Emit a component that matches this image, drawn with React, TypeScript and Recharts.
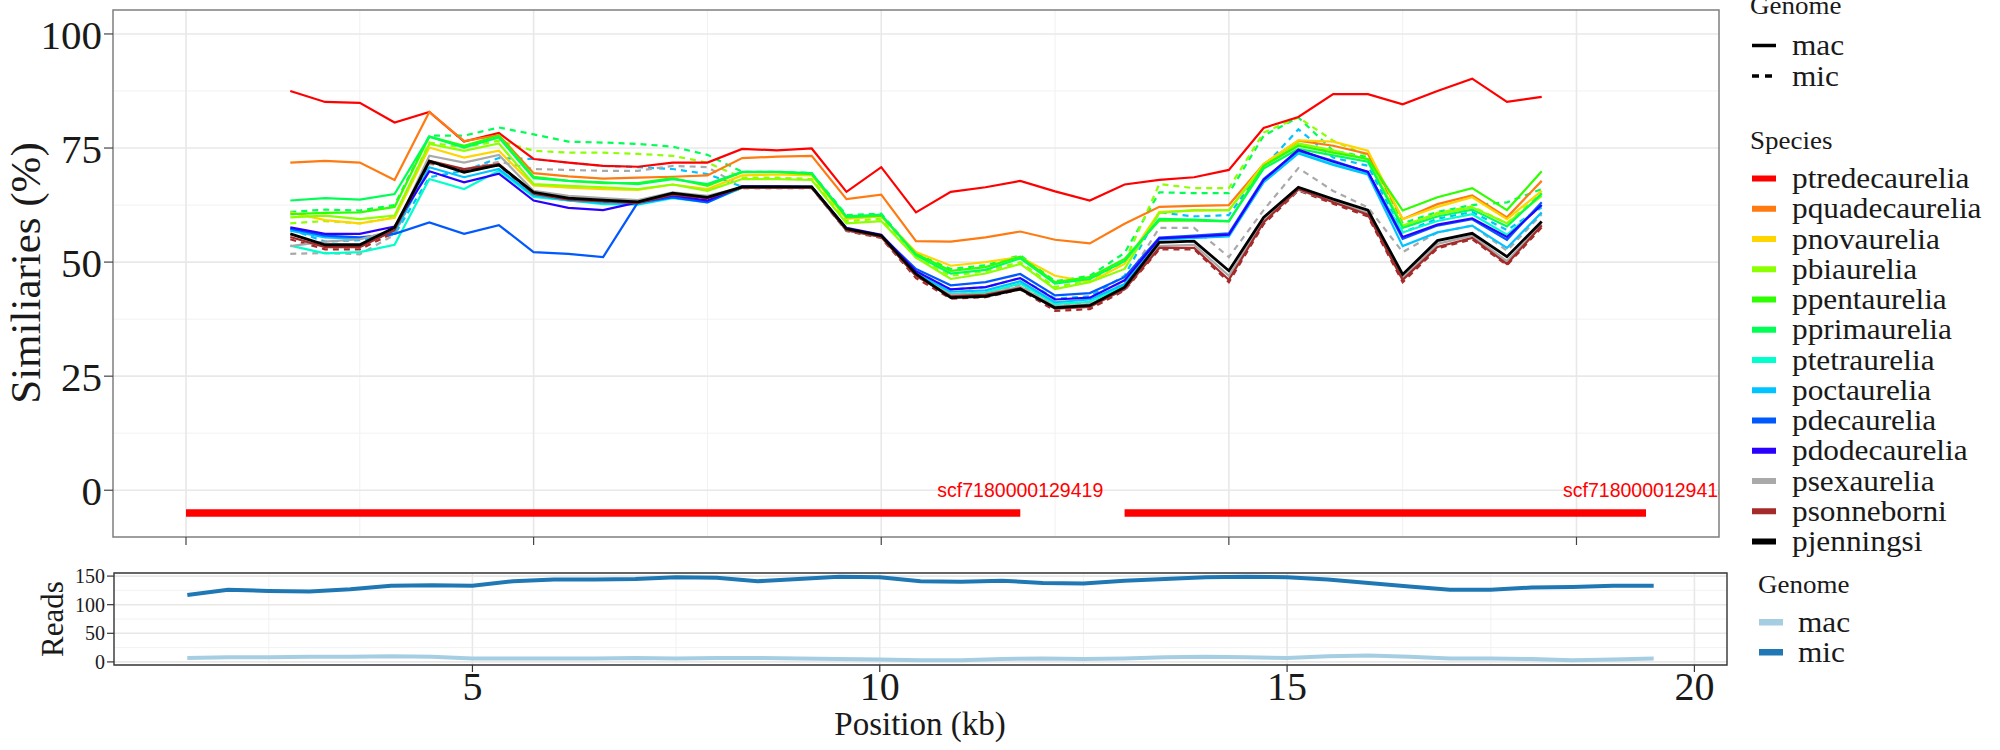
import React from 'react'
import { LineChart, Line, XAxis, YAxis, CartesianGrid, ReferenceLine, ReferenceDot, ReferenceArea } from 'recharts'

const SERIF = '"Liberation Serif", "Times New Roman", serif'
const SANS = '"Liberation Sans", Arial, sans-serif'

// window positions (kb)
const positions = [1.5, 2, 2.5, 3, 3.5, 4, 4.5, 5, 5.5, 6, 6.5, 7, 7.5, 8, 8.5, 9, 9.5, 10, 10.5, 11, 11.5, 12, 12.5, 13, 13.5, 14, 14.5, 15, 15.5, 16, 16.5, 17, 17.5, 18, 18.5, 19, 19.5]

// similarity, mac genome
const ptredecaurelia = [87.5, 85.1, 84.9, 80.6, 82.9, 76.4, 78.3, 72.6, 71.8, 71.1, 70.9, 71.8, 71.8, 74.8, 74.5, 74.9, 65.4, 70.8, 60.9, 65.4, 66.4, 67.8, 65.5, 63.5, 67, 68, 68.6, 70.2, 79.4, 81.8, 86.8, 86.8, 84.6, 87.5, 90.2, 85.1, 86.2]
const pquadecaurelia = [71.8, 72.2, 71.8, 68, 82.9, 76.5, 77.8, 69.5, 68.8, 68.3, 68.5, 68.7, 69, 72.8, 73.1, 73.3, 63.8, 64.8, 54.6, 54.5, 55.4, 56.7, 54.9, 54.1, 58.4, 62.1, 62.3, 62.5, 71.5, 76.6, 75.5, 73.7, 59.4, 62.7, 64.6, 59.8, 67.8]
const pnovaurelia = [60.9, 59.2, 58.5, 59.7, 75.1, 72.9, 74.4, 66.8, 66.3, 66, 65.8, 67, 66, 69, 69.2, 69, 59.5, 60, 52.2, 49.2, 50, 51.1, 47, 45.6, 49.6, 61, 61.3, 61.4, 71.5, 76.7, 76.4, 74.4, 59.4, 62.1, 64.2, 59.4, 65.6]
const pbiaurelia = [59.8, 60.2, 59.4, 60.2, 75.9, 74.4, 76, 67.1, 66.7, 66.4, 66, 67, 65.6, 68.2, 68.2, 68, 58.5, 59, 51, 46.3, 47.5, 49.6, 44.1, 45.6, 48.5, 60.8, 61.4, 61.4, 71, 76, 74.5, 72.5, 58, 60.5, 62, 58.5, 64.5]
const ppentaurelia = [60.5, 60.8, 60.9, 62.1, 77.5, 75.5, 77.7, 68.7, 67.8, 67.3, 67.3, 68.4, 66.7, 69.7, 69.7, 69.3, 59.8, 60.2, 51.8, 48.1, 48.9, 51.2, 45.6, 46.7, 50.7, 59.1, 59.1, 58.9, 71.1, 75.5, 74, 72.6, 61.3, 64.2, 66.2, 61.4, 69.9]
const pprimaurelia = [63.5, 64, 63.7, 64.9, 77.5, 75.1, 77.3, 68.4, 67.8, 67.5, 67.1, 68.2, 67.1, 69.8, 69.8, 69.5, 60, 60.4, 51.5, 47.5, 48.3, 50.8, 45.3, 46.3, 50.2, 59.5, 59.3, 59, 70.5, 74.8, 73.4, 72, 57.5, 60, 61.5, 57.8, 65]
const ptetraurelia = [53.6, 51.9, 52.2, 53.8, 68.2, 66, 70, 64.3, 63.5, 62.7, 62.6, 64, 63.1, 66.3, 66.3, 66.3, 57, 55.6, 47.6, 43, 43.3, 45.3, 40.8, 41.3, 44.8, 55, 55.3, 55.8, 67.5, 74, 71.5, 69.5, 56.5, 59, 60.5, 56, 62.5]
const poctaurelia = [56.9, 55.4, 55.1, 56.5, 70.8, 68.6, 70.4, 64.6, 63.5, 62.9, 62.7, 64.2, 63.2, 66.4, 66.4, 66.4, 57, 55.6, 47.5, 43.5, 43.8, 45.8, 41.2, 41.8, 45.2, 55, 55.3, 55.6, 67.5, 73.8, 71.3, 69.2, 53.5, 56.5, 58, 53.1, 60.9]
const pdecaurelia = [57.3, 55.8, 55.4, 56.2, 58.7, 56.2, 58.1, 52.2, 51.8, 51.1, 63.1, 64.2, 63.1, 66.5, 66.5, 66.5, 57.3, 55.8, 48.5, 44.9, 45.6, 47.4, 42.7, 43.2, 46.7, 55.4, 55.8, 56.3, 68.2, 74.4, 72.2, 69.7, 55.1, 58, 59.4, 54.9, 63.1]
const pdodecaurelia = [57.6, 56.2, 56.2, 57.8, 69.9, 67.5, 69.4, 63.5, 61.9, 61.4, 63.1, 64.6, 63.5, 66.6, 66.6, 66.5, 57.5, 56, 48, 44, 44.5, 46.5, 41.8, 42.2, 46, 55.2, 55.6, 56, 68, 74.6, 72, 69.8, 55.5, 58.2, 59.6, 55.5, 62.5]
const psexaurelia = [53.5, 54.5, 55, 57, 73.3, 71.8, 73.5, 65.6, 64.5, 64, 63.6, 65.3, 64.5, 66.4, 66.3, 66.3, 57, 55.5, 47, 42.8, 43, 44.6, 40.3, 40.8, 44, 53.5, 53.8, 47, 59, 65.8, 63.3, 60.8, 46.5, 54, 55.8, 50.2, 58.3]
const psonneborni = [55.5, 53.3, 53.3, 57, 72.2, 70.4, 71.5, 65, 63.7, 63.3, 63, 64.8, 64, 66.3, 66.3, 66.3, 57, 55.5, 47, 42.5, 42.8, 44.3, 39.8, 40.2, 44.1, 53.1, 53.1, 46.1, 58.7, 66, 63.1, 60.4, 46.1, 53.3, 55.3, 49.6, 58]
const pjenningsi = [56.2, 53.8, 53.8, 57.6, 72.1, 69.7, 71.3, 65.3, 64, 63.6, 63.2, 65.1, 64.2, 66.5, 66.5, 66.5, 57.3, 55.8, 47.4, 42.2, 42.5, 44.1, 40, 40.5, 44.5, 54.3, 54.6, 48.1, 59.8, 66.4, 63.8, 61.4, 47.3, 54.7, 56.3, 51.2, 58.9]

// similarity, mic genome (only where it separates from mac)
const pprimaureliaMic = [61, 61.5, 61.3, 62.5, 77.7, 77.7, 79.5, 78, 76.4, 76.2, 75.9, 75.3, 73.5, 69.8, 69.8, 69.5, 60.3, 60.6, 51.8, 48.5, 49.3, 51.5, 45.8, 47, 52, 65.3, 65.1, 65.1, 77.7, 81.7, 74.4, 73, 58.5, 61, 62.5, 63.1, 66]
const pbiaureliaMic = [58.5, 59, 58.5, 59.8, 76.2, 75.1, 76.6, 74.4, 74, 74, 73.7, 73.3, 71.8, 68.5, 68.5, 68.2, 59, 59.5, 51, 47, 48, 50, 44.5, 46, 50, 67.1, 66.2, 66.2, 78.4, 81.7, 76.6, 73.3, 57.8, 60.8, 62.2, 58.5, 65.2]
const poctaureliaMic = [57.2, 54.5, 54.8, 56, 68.6, 70, 72.8, 72.6, 71.8, 71.1, 70.8, 70.4, 69.3, 66.5, 66.5, 66.4, 57.3, 55.8, 48, 44, 44.5, 46.5, 42, 42.5, 47, 60.9, 60, 60.3, 70.8, 79.1, 72.9, 71.1, 56.5, 59.5, 61, 57, 62]
const psexaureliaMic = [51.8, 52, 51.7, 56, 71.5, 70.3, 72, 70.4, 70.2, 70, 70, 71.1, 70.8, 66.5, 66.5, 66.5, 57.2, 55.7, 47.2, 43, 43.3, 45, 40.6, 41, 45.5, 57.5, 57.5, 51.1, 61.4, 70.6, 65.6, 62, 52.2, 56.5, 58, 52.5, 60.5]
const psonneborniMic = [55, 52.8, 52.8, 56.5, 71.8, 70, 71.2, 64.8, 63.5, 63.1, 62.8, 64.6, 63.8, 66.2, 66.2, 66.2, 56.8, 55.3, 46.5, 42, 42.3, 44, 39.3, 39.7, 43.8, 52.8, 52.8, 45.6, 58.3, 65.7, 62.8, 60, 45.6, 53, 55, 49.3, 57.6]

// read coverage
const macReads = [7, 8, 8, 9, 9, 10, 9, 6, 6, 6, 6, 7, 6, 7, 7, 6, 5, 4, 3, 3, 5, 6, 5, 6, 8, 9, 8, 7, 10, 11, 9, 6, 6, 5, 3, 4, 6]
const micReads = [117, 126, 124, 123, 127, 133, 134, 133, 141, 144, 144, 145, 148, 147, 141, 145, 149, 148, 141, 140, 142, 138, 137, 142, 145, 148, 149, 148, 144, 138, 132, 126, 126, 130, 131, 133, 133]

// scaffolds under the similarity panel
const scaffoldNames = ['scf7180000129419', 'scf7180000129418']
const scaffoldStarts = [0, 13.5]
const scaffoldEnds = [12, 21]

const speciesNames = ['ptredecaurelia', 'pquadecaurelia', 'pnovaurelia', 'pbiaurelia', 'ppentaurelia', 'pprimaurelia', 'ptetraurelia', 'poctaurelia', 'pdecaurelia', 'pdodecaurelia', 'psexaurelia', 'psonneborni', 'pjenningsi']
const speciesColors = ['#FF0000', '#FF7A10', '#FFD500', '#8CFF00', '#2EFF00', '#00FF55', '#00FFCC', '#00C3FF', '#0058FF', '#2A00FF', '#A9A9A9', '#A52A2A', '#000000']
const macValues = [ptredecaurelia, pquadecaurelia, pnovaurelia, pbiaurelia, ppentaurelia, pprimaurelia, ptetraurelia, poctaurelia, pdecaurelia, pdodecaurelia, psexaurelia, psonneborni, pjenningsi]
const micSpecies = ['pprimaurelia', 'pbiaurelia', 'poctaurelia', 'psexaurelia', 'psonneborni']
const micValues = [pprimaureliaMic, pbiaureliaMic, poctaureliaMic, psexaureliaMic, psonneborniMic]

const yTicks = [0, 25, 50, 75, 100]
const yMinor = [12.5, 37.5, 62.5, 87.5]
const xTicksTop = [0, 5, 10, 15, 20]
const xMinor = [2.5, 7.5, 12.5, 17.5]
const readTicks = [0, 50, 100, 150]
const readMinor = [25, 75, 125]
const kbTicks = [5, 10, 15, 20]

const topData = positions.map((x, i) => {
  const row: Record<string, number> = { x }
  speciesNames.forEach((s, k) => { row[s + '_mac'] = macValues[k][i] })
  micSpecies.forEach((s, k) => { row[s + '_mic'] = micValues[k][i] })
  return row
})

const readData = positions.map((x, i) => ({ x, mac: macReads[i], mic: micReads[i] }))

// layout
const TOP_W = 1740
const TOP_H = 560
const TOP_MARGIN = { top: 10, right: 21, bottom: 13, left: 0 }
const TOP_YW = 113
const BOT_MARGIN = { top: 13, right: 13, bottom: 35, left: 0 }
const BOT_YW = 114

function ScfLabel(props: any) {
  const { viewBox, text } = props
  if (!viewBox) return null
  const cx = viewBox.x + (viewBox.width || 0) / 2
  const cy = viewBox.y + (viewBox.height || 0) / 2
  const id = 'clip-' + text
  const left = TOP_MARGIN.left + TOP_YW
  return (
    <g>
      <defs>
        <clipPath id={id}>
          <rect x={left} y={0} width={TOP_W - TOP_MARGIN.right - left} height={TOP_H} />
        </clipPath>
      </defs>
      <text x={cx} y={cy} dy="0.36em" textAnchor="middle" fill="#FF0000" fontSize={19.5} fontFamily={SANS} clipPath={`url(#${id})`}>
        {text}
      </text>
    </g>
  )
}

function SimilarityPanel() {
  return (
    <LineChart width={TOP_W} height={TOP_H} data={topData} margin={TOP_MARGIN}>
      <CartesianGrid horizontalValues={yMinor} verticalValues={xMinor} stroke="#F0F0F0" strokeWidth={0.9} />
      <CartesianGrid horizontalValues={yTicks} verticalValues={xTicksTop} stroke="#E8E8E8" strokeWidth={1.6} />
      <XAxis
        type="number"
        dataKey="x"
        domain={[-1.05, 22.05]}
        ticks={xTicksTop}
        allowDataOverflow
        height={10}
        tickSize={8}
        tickFormatter={() => ''}
        axisLine={false}
        tickLine={{ stroke: '#444', strokeWidth: 1.2 }}
      />
      <YAxis
        type="number"
        domain={[-10.25, 105.25]}
        ticks={yTicks}
        allowDataOverflow
        width={TOP_YW}
        tickSize={9}
        tickMargin={2}
        axisLine={false}
        tickLine={{ stroke: '#444', strokeWidth: 1.2 }}
        tick={{ fontSize: 41, fill: '#1a1a1a', fontFamily: SERIF }}
      />
      <ReferenceArea x1={-1.05} x2={22.05} y1={-10.25} y2={105.25} fill="none" stroke="#7F7F7F" strokeWidth={1.5} ifOverflow="visible" />
      {micSpecies.map((s) => (
        <Line
          key={s + '_mic'}
          dataKey={s + '_mic'}
          type="linear"
          stroke={speciesColors[speciesNames.indexOf(s)]}
          strokeWidth={2.2}
          strokeDasharray="6 5"
          dot={false}
          activeDot={false}
          isAnimationActive={false}
        />
      ))}
      {speciesNames.map((s, k) => (
        <Line
          key={s + '_mac'}
          dataKey={s + '_mac'}
          type="linear"
          stroke={speciesColors[k]}
          strokeWidth={s === 'pjenningsi' ? 2.8 : 2.2}
          dot={false}
          activeDot={false}
          isAnimationActive={false}
        />
      ))}
      {scaffoldNames.map((name, k) => (
        <ReferenceLine
          key={name + '_bar'}
          segment={[{ x: scaffoldStarts[k], y: -5 }, { x: scaffoldEnds[k], y: -5 }]}
          stroke="#FF0000"
          strokeWidth={7.5}
          ifOverflow="visible"
        />
      ))}
      {scaffoldNames.map((name, k) => (
        <ReferenceDot
          key={name + '_label'}
          x={scaffoldEnds[k]}
          y={0}
          r={0.5}
          fill="none"
          stroke="none"
          ifOverflow="visible"
          label={<ScfLabel text={name} />}
        />
      ))}
    </LineChart>
  )
}

function ReadsPanel() {
  return (
    <LineChart width={TOP_W} height={190} data={readData} margin={BOT_MARGIN}>
      <CartesianGrid horizontalValues={readMinor} verticalValues={xMinor} stroke="#F0F0F0" strokeWidth={0.9} />
      <CartesianGrid horizontalValues={readTicks} verticalValues={kbTicks} stroke="#E8E8E8" strokeWidth={1.6} />
      <XAxis
        type="number"
        dataKey="x"
        domain={[0.6, 20.4]}
        ticks={kbTicks}
        allowDataOverflow
        height={50}
        tickSize={7}
        tickMargin={0}
        axisLine={false}
        tickLine={{ stroke: '#333', strokeWidth: 1.2 }}
        tick={{ fontSize: 40, fill: '#1a1a1a', fontFamily: SERIF }}
      />
      <YAxis
        type="number"
        domain={[-5.4, 155.4]}
        ticks={readTicks}
        allowDataOverflow
        width={BOT_YW}
        tickSize={7}
        tickMargin={2}
        axisLine={false}
        tickLine={{ stroke: '#333', strokeWidth: 1.2 }}
        tick={{ fontSize: 20, fill: '#1a1a1a', fontFamily: SERIF }}
      />
      <ReferenceArea x1={0.6} x2={20.4} y1={-5.4} y2={155.4} fill="none" stroke="#333333" strokeWidth={1.4} ifOverflow="visible" />
      <Line dataKey="mac" type="linear" stroke="#A6CEE3" strokeWidth={4} dot={false} activeDot={false} isAnimationActive={false} />
      <Line dataKey="mic" type="linear" stroke="#1F78B4" strokeWidth={4} dot={false} activeDot={false} isAnimationActive={false} />
    </LineChart>
  )
}

// legend text: slightly wide serif, like the original device font
function LegendText({ x, y, size, children }: { x: number; y: number; size: number; children: React.ReactNode }) {
  return (
    <text transform={`translate(${x},${y}) scale(1.08,1)`} fontSize={size} fill="#1a1a1a">
      {children}
    </text>
  )
}

function Overlay() {
  const keyX = 1752
  const textX = 1792
  const rowY = (k: number) => 178.5 + k * 30.25
  return (
    <svg width={2000} height={750} style={{ position: 'absolute', left: 0, top: 0, pointerEvents: 'none' }} fontFamily={SERIF}>
      <text transform="translate(27,273) rotate(-90)" textAnchor="middle" dy="0.3em" fontSize={43} fill="#1a1a1a">
        Similiaries (%)
      </text>
      <text transform="translate(54,619) rotate(-90)" textAnchor="middle" dy="0.3em" fontSize={31} fill="#1a1a1a">
        Reads
      </text>
      <text x={920} y={735} textAnchor="middle" fontSize={33} fill="#1a1a1a">
        Position (kb)
      </text>

      <LegendText x={1750} y={14} size={25}>Genome</LegendText>
      <line x1={keyX} x2={keyX + 24} y1={45.5} y2={45.5} stroke="#000" strokeWidth={3.5} />
      <LegendText x={textX} y={55} size={29}>mac</LegendText>
      <line x1={keyX} x2={keyX + 24} y1={76} y2={76} stroke="#000" strokeWidth={3.5} strokeDasharray="7 6" />
      <LegendText x={textX} y={85.5} size={29}>mic</LegendText>

      <LegendText x={1750} y={149} size={25}>Species</LegendText>
      {speciesNames.map((s, k) => (
        <g key={s}>
          <rect x={keyX} y={rowY(k) - 3} width={24} height={6} fill={speciesColors[k]} />
          <LegendText x={textX} y={rowY(k) + 9.5} size={29}>{s}</LegendText>
        </g>
      ))}

      <LegendText x={1758} y={593} size={25}>Genome</LegendText>
      <rect x={1759} y={619} width={24} height={6.5} fill="#A6CEE3" />
      <LegendText x={1798} y={631.5} size={29}>mac</LegendText>
      <rect x={1759} y={649} width={24} height={6.5} fill="#1F78B4" />
      <LegendText x={1798} y={661.5} size={29}>mic</LegendText>
    </svg>
  )
}

export default function App() {
  return (
    <div style={{ position: 'absolute', left: 0, top: 0, width: 2000, height: 750, background: '#fff', overflow: 'hidden', fontFamily: SERIF }}>
      <div style={{ position: 'absolute', left: 0, top: 0 }}>
        <SimilarityPanel />
      </div>
      <div style={{ position: 'absolute', left: 0, top: 560 }}>
        <ReadsPanel />
      </div>
      <Overlay />
    </div>
  )
}
